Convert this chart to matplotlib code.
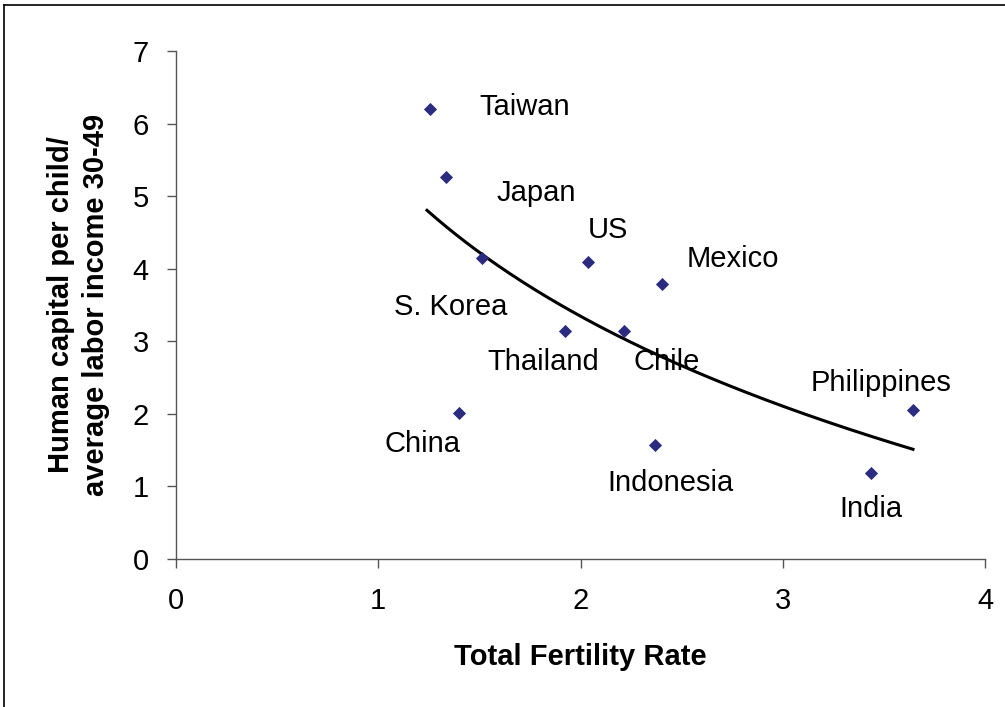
import numpy as np
import matplotlib
matplotlib.use("Agg")
import matplotlib.pyplot as plt
from matplotlib.lines import Line2D

plt.rcParams['font.family'] = ['Liberation Sans', 'DejaVu Sans']

# data
countries = ["Taiwan", "Japan", "S. Korea", "China", "Thailand", "US",
             "Chile", "Indonesia", "Mexico", "India", "Philippines"]
tfr = [1.256, 1.335, 1.513, 1.40, 1.923, 2.037, 2.215, 2.368, 2.403, 3.436, 3.644]
hc_ratio = [6.20, 5.26, 4.15, 2.01, 3.14, 4.09, 3.14, 1.57, 3.79, 1.19, 2.05]

# where each name sits (data coords)
label_xy = {
    "Taiwan": (1.726, 6.23), "Japan": (1.780, 5.04), "S. Korea": (1.36, 3.47),
    "China": (1.217, 1.58), "Thailand": (1.815, 2.715), "US": (2.136, 4.53),
    "Chile": (2.428, 2.715), "Indonesia": (2.447, 1.05), "Mexico": (2.754, 4.13),
    "India": (3.437, 0.69), "Philippines": (3.486, 2.425),
}

fig = plt.figure(figsize=(10.05, 7.07), dpi=100)
ax = fig.add_axes([176/1005, 1-559/707, (985-176)/1005, (559-51)/707])

ax.scatter(tfr, hc_ratio, marker="D", s=45, color="#2B2B7F", zorder=3, linewidths=0)

# logarithmic trendline, fitted to the points
x = np.array(tfr)
b, a = np.polyfit(np.log(x), hc_ratio, 1)
xs = np.linspace(x.min() - 0.015, x.max(), 200)
ax.plot(xs, a + b*np.log(xs), color="black", lw=2.2, zorder=2)

for name in countries:
    lx, ly = label_xy[name]
    ax.text(lx, ly, name, fontsize=21, ha="center", va="center")

ax.set_xlim(0, 4)
ax.set_ylim(0, 7)
ax.set_xticks(range(0, 5))
ax.set_yticks(range(0, 8))
ax.tick_params(direction="out", length=6.5, width=1, labelsize=21, colors="#555555",
               labelcolor="black")
ax.tick_params(axis="x", pad=14)
ax.tick_params(axis="y", pad=13)
for s in ["top", "right"]:
    ax.spines[s].set_visible(False)
for s in ["left", "bottom"]:
    ax.spines[s].set_color("#555555")
    ax.spines[s].set_linewidth(1)

ax.set_xlabel("Total Fertility Rate", fontsize=21, fontweight="bold", labelpad=20)
ax.set_ylabel("Human capital per child/\naverage labor income 30-49", fontsize=21,
              fontweight="bold", labelpad=16, linespacing=1.35)

# outer chart frame
fig.add_artist(Line2D([4/1005, 4/1005], [0, 1-5/707], color="black", lw=1.2))
fig.add_artist(Line2D([4/1005, 1], [1-5/707, 1-5/707], color="black", lw=1.2))

fig.savefig("out.png", dpi=100)
